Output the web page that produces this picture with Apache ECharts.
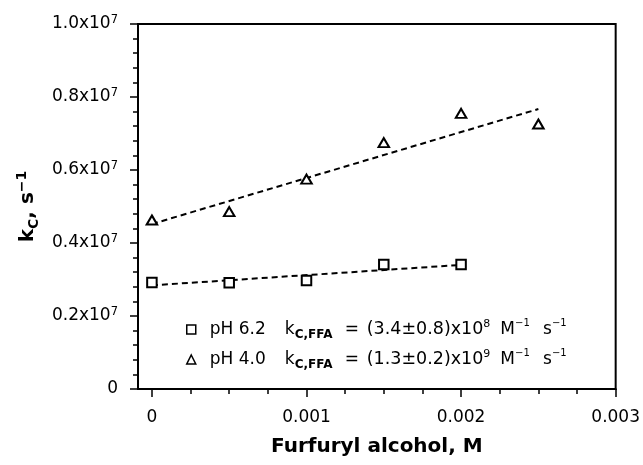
<!DOCTYPE html>
<html>
<head>
<meta charset="utf-8">
<script src="https://cdn.jsdelivr.net/npm/echarts@6/dist/echarts.min.js"></script>
<style>html,body{margin:0;padding:0;background:#fff}#c{width:643px;height:465px}</style>
</head>
<body>
<div id="c"></div>
<script>
// ---- data ----
const xValues = [0, 0.0005, 0.001, 0.0015, 0.002, 0.0025];
const kcPH62 = [2920000, 2910000, 2970000, 3410000, 3410000];
const kcPH40 = [4630000, 4860000, 5750000, 6750000, 7550000, 7260000];
const fitX62 = [0, 0.002];
const fitY62 = [2840000, 3400000];
const fitX40 = [0, 0.0025];
const fitY40 = [4520000, 7670000];
const seriesNames = ['pH 6.2', 'pH 4.0'];
const legendK = ['(3.4±0.8)x10', '(1.3±0.2)x10'];
const legendExp = ['8', '9'];
const xTickValues = [0, 0.001, 0.002, 0.003];
const xTickLabels = ['0', '0.001', '0.002', '0.003'];
const xMinorTicks = [0.00025, 0.0005, 0.00075, 0.00125, 0.0015, 0.00175, 0.00225, 0.0025, 0.00275];
const yTickMantissa = ['0', '0.2', '0.4', '0.6', '0.8', '1.0'];
const yTickExp = '7';

const FONT = 'DejaVu Sans';
const pairs = (xs, ys) => ys.map((y, i) => [xs[i], y]);

const chart = echarts.init(document.getElementById('c'), null, {renderer: 'canvas'});
const XMIN = -0.00009, XMAX = 0.003;

const option = {
  backgroundColor: '#fff',
  animation: false,
  grid: {left: 138, right: 26, top: 24, bottom: 76, show: true, borderColor: '#000', borderWidth: 2, backgroundColor: 'transparent'},
  legend: {
    show: true, orient: 'vertical', left: 186, top: 318.5, padding: 0,
    itemWidth: 9, itemHeight: 9, itemGap: 8, selectedMode: false,
    data: seriesNames,
    itemStyle: {borderWidth: 1.5, borderColor: '#000', color: '#fff'},
    formatter: function (name) {
      const i = seriesNames.indexOf(name);
      return '{p|' + name + '}{k|k}{sub|C,FFA}{eq|=}{v|' + legendK[i] + '}{sup|' + legendExp[i] + '}{m|M}{sup2|−1}{s|s}{sup3|−1}';
    },
    textStyle: {
      color: '#000', fontFamily: FONT, fontSize: 17,
      rich: {
        p: {fontFamily: FONT, fontSize: 17, lineHeight: 22, color: '#000', width: 75, padding: [0, 0, 0, 9]},
        k: {fontFamily: FONT, fontSize: 17, lineHeight: 22, color: '#000', width: 10},
        sub: {fontFamily: FONT, fontSize: 12, fontWeight: 'bold', lineHeight: 12, verticalAlign: 'bottom', color: '#000', width: 50},
        eq: {fontFamily: FONT, fontSize: 17, lineHeight: 22, color: '#000', width: 22},
        v: {fontFamily: FONT, fontSize: 17.5, lineHeight: 22, color: '#000'},
        sup: {fontFamily: FONT, fontSize: 11, lineHeight: 11, verticalAlign: 'top', color: '#000', width: 17},
        m: {fontFamily: FONT, fontSize: 17, lineHeight: 22, color: '#000'},
        sup2: {fontFamily: FONT, fontSize: 10, lineHeight: 11, verticalAlign: 'top', color: '#000', width: 28},
        s: {fontFamily: FONT, fontSize: 17, lineHeight: 22, color: '#000'},
        sup3: {fontFamily: FONT, fontSize: 10, lineHeight: 11, verticalAlign: 'top', color: '#000'}
      }
    }
  },
  xAxis: [
    {
      type: 'value', min: XMIN, max: XMAX, position: 'bottom',
      name: 'Furfuryl alcohol, M', nameLocation: 'middle', nameGap: 48,
      nameTextStyle: {fontFamily: FONT, fontWeight: 'bold', fontSize: 20, color: '#000'},
      axisLine: {show: true, onZero: false, lineStyle: {color: '#000', width: 2}},
      axisTick: {show: true, length: 8, inside: false, customValues: xTickValues, lineStyle: {color: '#000', width: 1.5}},
      axisLabel: {show: true, margin: 20, customValues: xTickValues, showMinLabel: true, showMaxLabel: true,
        fontFamily: FONT, fontSize: 17, color: '#000',
        formatter: function (v) { const i = xTickValues.findIndex(t => Math.abs(t - v) < 1e-9); return i >= 0 ? xTickLabels[i] : ''; }},
      splitLine: {show: false}
    },
    {
      type: 'value', min: XMIN, max: XMAX, position: 'bottom', offset: 0,
      axisLine: {show: false},
      axisTick: {show: true, length: 5, inside: false, customValues: xMinorTicks, lineStyle: {color: '#000', width: 1.5}},
      axisLabel: {show: false},
      splitLine: {show: false}
    }
  ],
  yAxis: {
    type: 'value', min: 0, max: 10000000, interval: 2000000,
    name: '{k|k}{c|C}{n|, s}{e|−1}', nameLocation: 'middle', nameGap: 97,
    nameTextStyle: {
      color: '#000', fontFamily: FONT, fontWeight: 'bold', fontSize: 20,
      rich: {
        k: {fontFamily: FONT, fontWeight: 'bold', fontSize: 20, lineHeight: 26, color: '#000'},
        c: {fontFamily: FONT, fontWeight: 'bold', fontSize: 14, lineHeight: 14, verticalAlign: 'bottom', color: '#000'},
        n: {fontFamily: FONT, fontWeight: 'bold', fontSize: 20, lineHeight: 26, color: '#000'},
        e: {fontFamily: FONT, fontWeight: 'bold', fontSize: 14, lineHeight: 14, verticalAlign: 'top', color: '#000'}
      }
    },
    axisLine: {show: true, onZero: false, lineStyle: {color: '#000', width: 2}},
    axisTick: {show: true, length: 8, lineStyle: {color: '#000', width: 1.5}},
    minorTick: {show: true, splitNumber: 5, length: 5, lineStyle: {color: '#000', width: 1.5}},
    axisLabel: {
      margin: 20, color: '#000', fontFamily: FONT, fontSize: 17,
      formatter: function (v) {
        const i = Math.round(v / 2000000);
        return i === 0 ? '{m|' + yTickMantissa[0] + '}' : '{m|' + yTickMantissa[i] + 'x10}{s|' + yTickExp + '}';
      },
      rich: {
        m: {fontFamily: FONT, fontSize: 17, lineHeight: 20, color: '#000'},
        s: {fontFamily: FONT, fontSize: 11.5, lineHeight: 11, verticalAlign: 'top', color: '#000'}
      }
    },
    splitLine: {show: false},
    minorSplitLine: {show: false}
  },
  series: [
    {
      name: 'fit 6.2', type: 'line', xAxisIndex: 0, data: pairs(fitX62, fitY62), symbol: 'none', z: 2,
      lineStyle: {color: '#000', width: 2, type: [6, 4]}, silent: true
    },
    {
      name: 'fit 4.0', type: 'line', xAxisIndex: 0, data: pairs(fitX40, fitY40), symbol: 'none', z: 2,
      lineStyle: {color: '#000', width: 2, type: [6, 4]}, silent: true
    },
    {
      name: seriesNames[0], type: 'scatter', xAxisIndex: 0, data: pairs(xValues, kcPH62), z: 3,
      symbol: 'rect', symbolSize: 9.5,
      itemStyle: {color: '#fff', borderColor: '#000', borderWidth: 2, opacity: 1}
    },
    {
      name: seriesNames[1], type: 'scatter', xAxisIndex: 0, data: pairs(xValues, kcPH40), z: 3,
      symbol: 'triangle', symbolSize: [10.5, 9],
      itemStyle: {color: '#fff', borderColor: '#000', borderWidth: 2, opacity: 1}
    }
  ]
};
chart.setOption(option);
</script>
</body>
</html>
